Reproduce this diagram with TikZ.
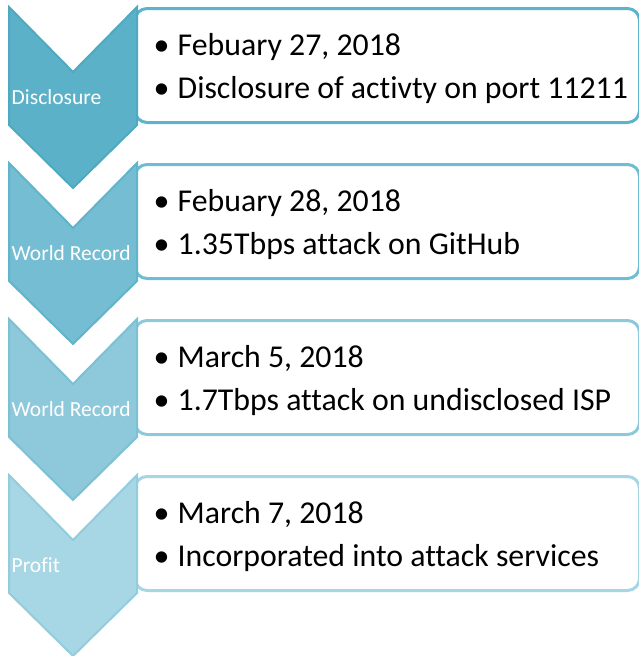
\documentclass[tikz,border=0pt]{standalone}
\usepackage{fontspec}
\setmainfont[Ligatures=NoCommon]{Carlito}
\definecolor{cf1}{HTML}{5BB2C8}
\definecolor{cf2}{HTML}{74BDD2}
\definecolor{cf3}{HTML}{8DC9DB}
\definecolor{cf4}{HTML}{A7D6E4}
\definecolor{cd1}{HTML}{4FA9C0}
\definecolor{cd2}{HTML}{62B4CA}
\definecolor{cd3}{HTML}{7CC0D4}
\definecolor{cd4}{HTML}{93CDDD}
\definecolor{cb1}{HTML}{5BB4CB}
\definecolor{cb2}{HTML}{6FBDD2}
\definecolor{cb3}{HTML}{8CCADB}
\definecolor{cb4}{HTML}{A6D6E3}
\tikzset{
  chev/.style={line width=2pt, line join=miter},
  infobox/.style={line width=3pt, fill=white, rounded corners=12pt},
  lbl/.style={anchor=base west, inner sep=0pt, text=white, font=\fontsize{21.5}{25}\selectfont},
  bul/.style={anchor=base, inner sep=0pt, font=\fontsize{32}{38}\selectfont},
  itm/.style={anchor=base west, inner sep=0pt, font=\fontsize{31.8}{38}\selectfont}
}
\begin{document}
\begin{tikzpicture}[x=1pt,y=-1pt]
\useasboundingbox (0,0) rectangle (639,656);
\foreach \k/\n/\lab/\la/\lb in {
  0/1/Disclosure/{Febuary 27, 2018}/{Disclosure of activty on port 11211},
  1/2/World Record/{Febuary 28, 2018}/{1.35Tbps attack on GitHub},
  2/3/World Record/{March 5, 2018}/{1.7Tbps attack on undisclosed ISP},
  3/4/Profit/{March 7, 2018}/{Incorporated into attack services}}{
  \pgfmathsetmacro\t{7+156*\k}
  \draw[infobox, draw=cb\n] (135,\t+1.5) rectangle (639.5,\t+115.5);
  \fill[cf\n, draw=cd\n, chev] (9,\t) -- (73,\t+65) -- (137,\t) -- (137,\t+118)
     -- (73,\t+181) -- (9,\t+118) -- cycle;
  \node[lbl] (lab\n) at (11.5,\t+97.5) {\lab};
  \node[bul] (ba\n) at (161.5,\t+48) {•};
  \node[itm] (ia\n) at (177.5,\t+48) {\la};
  \node[bul] (bb\n) at (161.5,\t+91) {•};
  \node[itm] (ib\n) at (177.5,\t+91) {\lb};
}
\end{tikzpicture}
\end{document}
